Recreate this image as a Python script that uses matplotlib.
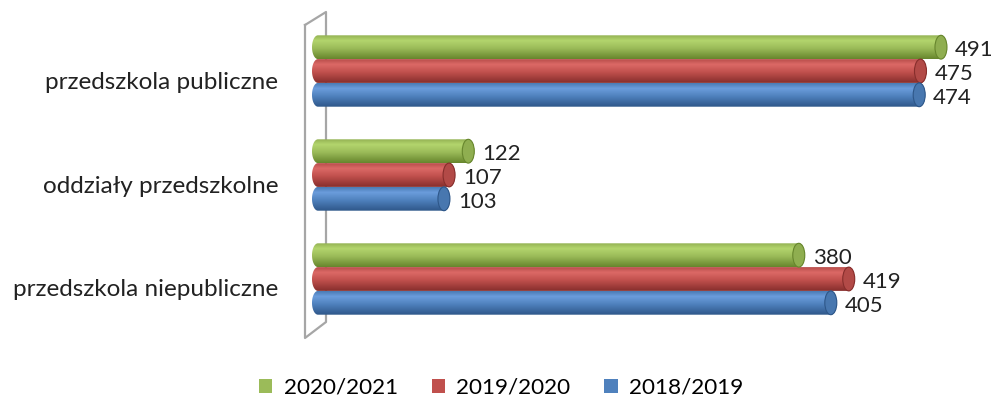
import numpy as np
import matplotlib
matplotlib.use("Agg")
import matplotlib.pyplot as plt
from matplotlib.path import Path
from matplotlib.patches import PathPatch, Ellipse, Patch
from matplotlib.lines import Line2D
from matplotlib.colors import LinearSegmentedColormap
from matplotlib.transforms import ScaledTranslation

plt.rcParams['font.family'] = ['Lato', 'DejaVu Sans']

categories = ["przedszkola publiczne", "oddziały przedszkolne", "przedszkola niepubliczne"]
series_names = ["2020/2021", "2019/2020", "2018/2019"]
values_2020_2021 = [491, 122, 380]
values_2019_2020 = [475, 107, 419]
values_2018_2019 = [474, 103, 405]
series_values = [values_2020_2021, values_2019_2020, values_2018_2019]

colors = ["#9bbb59", "#c0504d", "#4f81bd"]
grad_stops = [
    ["#93b253", "#b3d56d", "#9bbb59", "#67862d"],
    ["#b84e4b", "#dc6966", "#c0504d", "#872e2c"],
    ["#4a7bb5", "#6b9ddc", "#4f81bd", "#2e5789"],
]
face_cols = ["#8fae50", "#b24a47", "#4877af"]
edge_cols = ["#67862d", "#872e2c", "#2e5789"]

W, H = 997, 405
fig = plt.figure(figsize=(W / 100, H / 100), dpi=100)
px_per_unit = 1.281
zero_px = 318
ax_l, ax_r, ax_t, ax_b = 306, 960, 25, 340
ax = fig.add_axes([ax_l / W, (H - ax_b) / H, (ax_r - ax_l) / W, (ax_b - ax_t) / H])
unit_px = 104.0
xmin = (ax_l - zero_px) / px_per_unit
xmax = (ax_r - zero_px) / px_per_unit
ytop = (ax_t - 71) / unit_px
ybot = (ax_b - 71) / unit_px

offsets = [-23.8 / unit_px, 0.0, 23.8 / unit_px]
bar_h = 23.8 / unit_px
rx = 6 / px_per_unit

def bar_path(v, yc, h):
    verts = [(0, yc - h / 2), (v - rx, yc - h / 2)]
    for a in np.linspace(-np.pi / 2, np.pi / 2, 40):
        verts.append((v - rx + rx * np.cos(a), yc + (h / 2) * np.sin(a)))
    verts.append((0, yc + h / 2))
    for a in np.linspace(np.pi / 2, 3 * np.pi / 2, 40):
        verts.append((rx * np.cos(a), yc + (h / 2) * np.sin(a)))
    verts.append((0, yc - h / 2))
    codes = [Path.MOVETO] + [Path.LINETO] * (len(verts) - 2) + [Path.CLOSEPOLY]
    return Path(verts, codes)

for si, (vals, stops) in enumerate(zip(series_values, grad_stops)):
    cmap = LinearSegmentedColormap.from_list(
        "g%d" % si, list(zip([0.0, 0.22, 0.55, 1.0], stops)))
    grad = np.linspace(0, 1, 64).reshape(-1, 1)
    for ci, v in enumerate(vals):
        yc = ci + offsets[si]
        path = bar_path(v, yc, bar_h)
        patch = PathPatch(path, facecolor="none", edgecolor="none", zorder=2)
        ax.add_patch(patch)
        im = ax.imshow(grad, cmap=cmap, aspect="auto", origin="upper",
                       extent=(-rx, v, yc + bar_h / 2, yc - bar_h / 2),
                       zorder=2, interpolation="bilinear")
        im.set_clip_path(patch)
        ell = Ellipse((v - rx, yc), 2 * rx, bar_h, facecolor=face_cols[si],
                      edgecolor=edge_cols[si], linewidth=0.8, zorder=3)
        ax.add_patch(ell)
        ax.annotate(str(v), xy=(v, yc), xytext=(8, -3), textcoords="offset pixels",
                    ha="left", va="center", fontsize=16, color="#222222",
                    annotation_clip=False, zorder=4)

ax.set_xlim(xmin, xmax)
ax.set_ylim(ybot, ytop)
ax.set_yticks(range(len(categories)))
ax.set_yticklabels(categories, fontsize=17.5, color="#222222")
ax.tick_params(axis="y", length=0, pad=(ax_l - 278) * 0.72)
for lab in ax.get_yticklabels():
    lab.set_transform(lab.get_transform() + ScaledTranslation(0, -9 / 100, fig.dpi_scale_trans))
ax.set_xticks([])
for s in ax.spines.values():
    s.set_visible(False)
ax.patch.set_visible(False)

# 3D back wall outline
wx = [305, 326, 326, 305, 305]
wy = [25, 12, 322, 338, 25]
wall = Line2D([x / W for x in wx], [1 - y / H for y in wy], transform=fig.transFigure,
              color="#a6a6a6", linewidth=1.6, zorder=-1)
fig.add_artist(wall)

handles = [Patch(facecolor=c, edgecolor="none") for c in colors]
fig.legend(handles, series_names, loc="center", bbox_to_anchor=(501 / W, 1 - 388 / H),
           ncol=3, frameon=False, fontsize=16.2, handlelength=0.6, handleheight=0.6,
           handletextpad=0.5, columnspacing=1.5)

fig.savefig("out.png", dpi=100)
